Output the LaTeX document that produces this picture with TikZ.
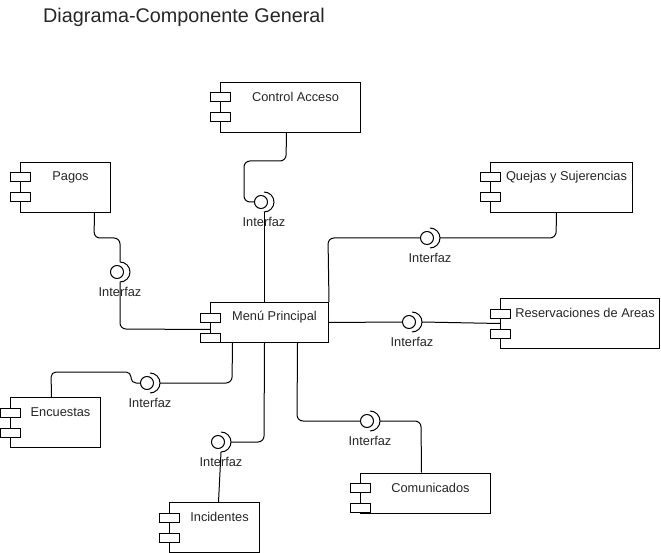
\documentclass[tikz,border=0pt]{standalone}
\usepackage{fontspec}
\setmainfont{Liberation Sans}
\usetikzlibrary{calc}
\tikzset{
  comp/.style={draw, line width=1pt, fill=white, rectangle, inner sep=0pt, anchor=north west},
  port/.style={draw, line width=1pt, fill=white, rectangle, inner sep=0pt, minimum width=20pt, minimum height=9pt},
  lbl/.style={font=\fontsize{12.8}{15}\selectfont, inner sep=0pt, text=black!85},
  ball/.style={draw, circle, line width=1pt, fill=white, inner sep=0pt, minimum size=13pt},
  wire/.style={line width=1pt, rounded corners=6pt},
  sock/.style={line width=1pt},
}
\newcommand\mkcomp[6]{%
  \node[comp, minimum width=#4pt, minimum height=#5pt] (#1) at (#2,#3) {};
  \node[port] (#1p1) at ($(#1.north west)+(0,15.5)$) {};
  \node[port] (#1p2) at ($(#1.north west)+(0,35.5)$) {};
  \node[lbl] (#1t) at ($(#1.north)+(5,15)$) {#6};
}
\newcommand\mkiface[3]{%
  \node[ball] (#1) at (#2,#3) {};
  \coordinate (#1r) at ($(#1)+(13,0)$);
  \coordinate (#1t) at ($(#1)+(3,-10)$);
  \coordinate (#1b) at ($(#1)+(3,10)$);
  \draw[sock] (#1b) arc[start angle=-90, end angle=90, radius=10pt];
  \node[lbl] (#1l) at ($(#1)+(3,20)$) {Interfaz};
}
\begin{document}
\begin{tikzpicture}[x=1pt,y=-1pt]
\useasboundingbox (0,0) rectangle (661,553);
\node[font=\fontsize{19.8}{24}\selectfont, anchor=west, inner sep=0pt, text=black!85] (title) at (43,17.5) {Diagrama-Componente General};

\mkcomp{ca}{220}{82}{140}{50}{Control Acceso}
\mkcomp{pg}{20}{162}{90}{50}{Pagos}
\mkcomp{qs}{490}{162}{142}{50}{Quejas y Sujerencias}
\mkcomp{mp}{210}{302}{118}{40}{Menú Principal}
\mkcomp{rs}{500}{298}{159}{50}{Reservaciones de Areas}
\mkcomp{en}{10}{397}{90}{50}{Encuestas}
\mkcomp{inc}{169}{502}{90}{50}{Incidentes}
\mkcomp{cm}{360}{472.5}{130}{40}{Comunicados}

\mkiface{ia}{261}{202}
\mkiface{ib}{117}{272}
\mkiface{ic}{427}{238}
\mkiface{id}{409}{322}
\mkiface{ie}{147}{383}
\mkiface{if}{218}{442}
\mkiface{ig}{367}{421}

% Control Acceso
\draw[wire] ([xshift=-4pt]ca.south) -- (286,161) -- (244,161) -- (244,202) -- (ia.west);
\draw[wire] (iab) -- (iab |- mp.north);
% Pagos
\draw[wire] ([xshift=29pt]pg.south) -- (94,238) -- (120,238) -- (ibt);
\draw[wire] (ibb) -- (120,329) -- ([yshift=-7pt]mp.west);
% Quejas
\draw[wire] (mp.north east) -- (328,238) -- (ic.west);
\draw[wire] (icr) -- (556,238) -- ([xshift=-5pt]qs.south);
% Reservaciones
\draw[wire] (mp.east) -- (id.west);
\draw[wire] (idr) -- (rs.west);
% Encuestas
\draw[wire, rounded corners=5pt] ([xshift=-4pt]en.north) -- (51,372) -- (131,372) -- (131,383) -- (ie.west);
\draw[wire] (ier) -- (232,383) -- ([xshift=-37pt]mp.south);
% Incidentes
\draw[wire] (ifr) -- (264,442) -- ([xshift=-5pt]mp.south);
\draw[wire] (ifb) -- ([xshift=4pt]inc.north);
% Comunicados
\draw[wire] ([xshift=28pt]mp.south) -- (297,421) -- (ig.west);
\draw[wire] (igr) -- (421,421) -- ([xshift=-4pt]cm.north);
\end{tikzpicture}
\end{document}
